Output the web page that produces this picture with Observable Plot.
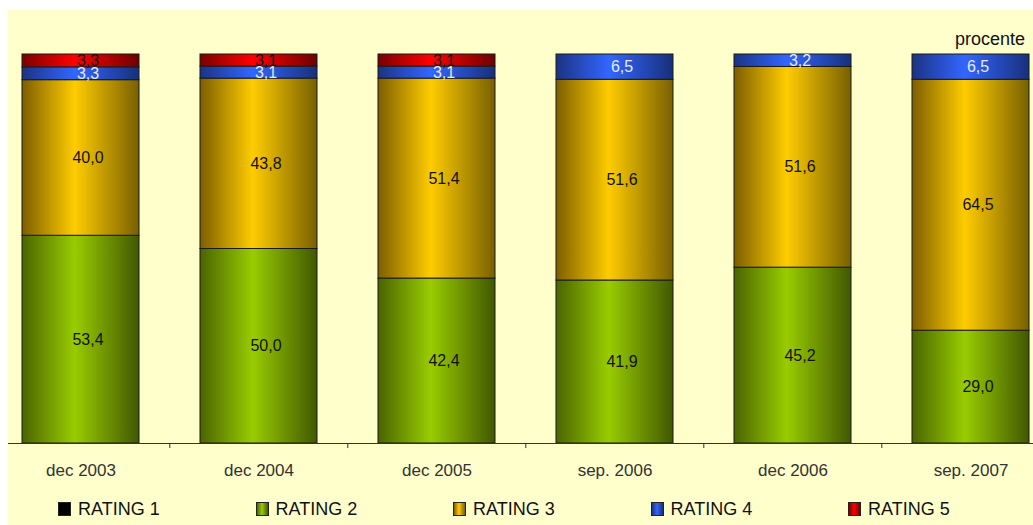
<!DOCTYPE html>
<html><head><meta charset="utf-8">
<script src="https://cdn.jsdelivr.net/npm/d3@7"></script>
<script src="https://cdn.jsdelivr.net/npm/@observablehq/plot@0.6"></script>
<style>
html,body{margin:0;padding:0;background:#fff;}
body{width:1033px;height:525px;overflow:hidden;position:relative;font-family:"Liberation Sans",Arial,sans-serif;}
#wrap{position:absolute;left:8px;top:10px;width:1025px;height:515px;background:#ffffcc;overflow:hidden;}
#chart{position:absolute;left:0;top:0;}
#unit{position:absolute;right:8px;top:19px;font-size:18px;color:#111;}
#legend{position:absolute;left:0;top:490px;width:1025px;height:25px;}
.item{position:absolute;top:0;display:flex;align-items:center;height:18px;font-size:18px;color:#111;}
.sw{width:11px;height:12px;border:1px solid #222;margin-right:7px;box-sizing:content-box;}
</style></head><body>
<div id="wrap"><div id="chart"></div><div id="unit">procente</div><div id="legend"></div></div>
<script>
const periods = ["dec 2003","dec 2004","dec 2005","sep. 2006","dec 2006","sep. 2007"];
const ratings = ["RATING 1","RATING 2","RATING 3","RATING 4","RATING 5"];
const rating1 = [0,0,0,0,0,0];
const rating2 = [53.4,50.0,42.4,41.9,45.2,29.0];
const rating3 = [40.0,43.8,51.4,51.6,51.6,64.5];
const rating4 = [3.3,3.1,3.1,6.5,3.2,6.5];
const rating5 = [3.3,3.1,3.1,0,0,0];
const unitLabel = "procente";

const series = [rating1, rating2, rating3, rating4, rating5];
const rows = [];
ratings.forEach((r, i) => periods.forEach((p, j) => rows.push({period: p, rating: r, value: series[i][j]})));
const data = rows.filter(d => d.value > 0);
const fmt = v => v.toFixed(1).replace(".", ",");

// gradient colours: [edge-left, centre, edge-right]
const shades = [
  ["#000000","#000000","#000000"],
  ["#4a6400","#99cc00","#415800"],
  ["#7d5e00","#ffcc00","#786000"],
  ["#1b3382","#3366ff","#18307a"],
  ["#7a0000","#ff0000","#6e0000"]
];

const W = 1025, H = 485, baseY = 433, topY = 44;
const xRange = [-17.2, 1053.2];
const step = (xRange[1] - xRange[0]) / periods.length;

const chart = Plot.plot({
  width: W, height: H,
  marginLeft: 0, marginRight: 0, marginTop: topY, marginBottom: H - baseY,
  style: {background: "transparent", fontFamily: "'Liberation Sans', Arial, sans-serif", overflow: "hidden"},
  x: {domain: periods, range: xRange, paddingInner: 0.34, paddingOuter: 0.17, label: null},
  y: {domain: [0, 100], axis: null},
  color: {domain: ratings, range: ratings.map((r, i) => `url(#grad${i})`)},
  marks: [
    Plot.barY(data, Plot.stackY({x: "period", y: "value", fill: "rating", stroke: "#1a1a1a", strokeWidth: 1})),
    Plot.text(data, Plot.stackY({x: "period", y: "value", text: d => d.rating !== "RATING 4" ? fmt(d.value) : "", fill: "#111", fontSize: 16, dx: 7})),
    Plot.text(data, Plot.stackY({x: "period", y: "value", text: d => d.rating === "RATING 4" ? fmt(d.value) : "", fill: "#e4eaff", fontSize: 16, dx: 7})),
    Plot.ruleY([0], {stroke: "#333", strokeWidth: 1}),
    Plot.ruleX(periods.slice(1), {x: d => d, dx: -step / 2, y1: 0, y2: -1.3, stroke: "#333"}),
    Plot.axisX({tickSize: 0, tickPadding: 20, fontSize: 17, fill: "#333", label: null})
  ]
});

// add gradient definitions
const ns = "http://www.w3.org/2000/svg";
const defs = document.createElementNS(ns, "defs");
shades.forEach((s, i) => {
  const g = document.createElementNS(ns, "linearGradient");
  g.setAttribute("id", `grad${i}`);
  g.setAttribute("x1", "0"); g.setAttribute("x2", "1"); g.setAttribute("y1", "0"); g.setAttribute("y2", "0");
  [[0, s[0]], [0.45, s[1]], [1, s[2]]].forEach(([o, c]) => {
    const st = document.createElementNS(ns, "stop");
    st.setAttribute("offset", o); st.setAttribute("stop-color", c);
    g.appendChild(st);
  });
  defs.appendChild(g);
});
chart.insertBefore(defs, chart.firstChild);
document.getElementById("chart").appendChild(chart);
document.getElementById("unit").textContent = unitLabel;

// legend
const legend = document.getElementById("legend");
const legendLeft = 50, legendStep = 197.5;
ratings.forEach((r, i) => {
  const it = document.createElement("div");
  it.className = "item";
  it.style.left = (legendLeft + i * legendStep) + "px";
  const sw = document.createElement("span");
  sw.className = "sw";
  const s = shades[i];
  sw.style.background = `linear-gradient(to right, ${s[0]}, ${s[1]} 45%, ${s[2]})`;
  const t = document.createElement("span");
  t.textContent = r;
  it.appendChild(sw); it.appendChild(t);
  legend.appendChild(it);
});
</script>
</body></html>
